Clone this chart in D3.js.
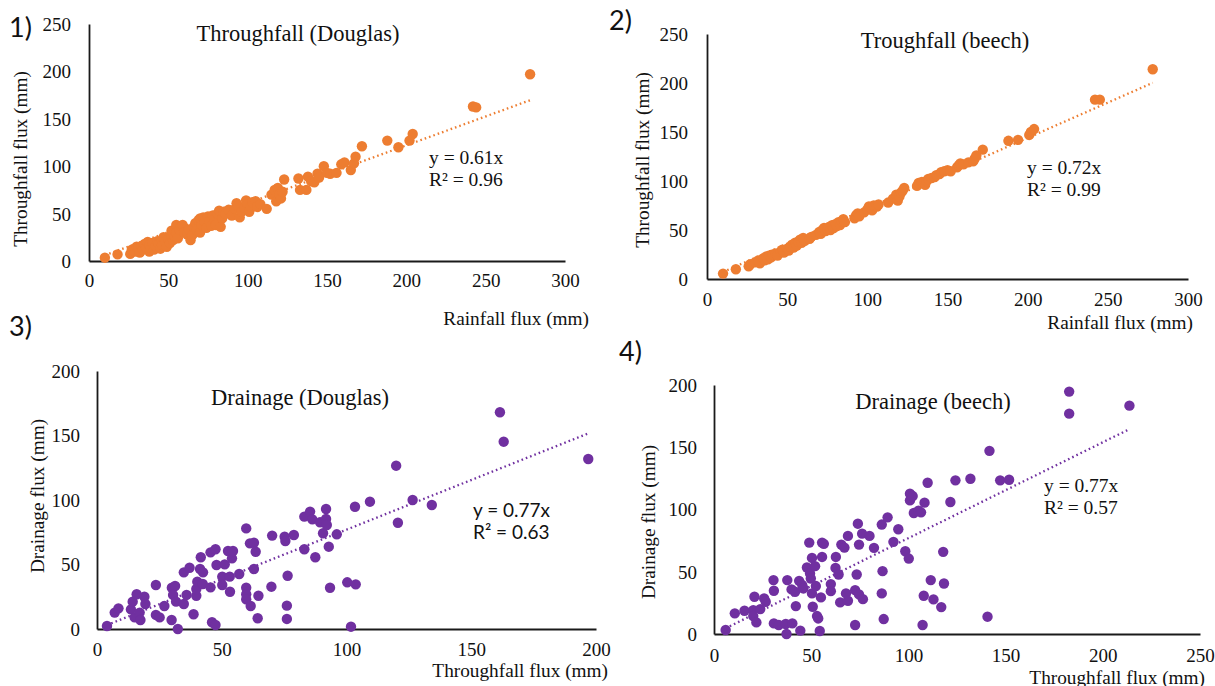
<!DOCTYPE html>
<html><head><meta charset="utf-8">
<script src="https://cdn.jsdelivr.net/npm/d3@7"></script>
<style>body{margin:0;background:#fff}svg{display:block}</style>
</head><body><svg id="c" width="1215" height="686"></svg>
<script>
// ---------- DATA ----------
const panelTitles = ["Throughfall (Douglas)", "Troughfall (beech)", "Drainage (Douglas)", "Drainage (beech)"];
const panelNumbers = ["1)", "2)", "3)", "4)"];
const xTitles = ["Rainfall flux (mm)", "Rainfall flux (mm)", "Throughfall flux (mm)", "Throughfall flux (mm)"];
const yTitles = ["Throughfall flux (mm)", "Throughfall flux (mm)", "Drainage flux (mm)", "Drainage flux (mm)"];
const slopes = [0.61, 0.72, 0.77, 0.77];
const r2Values = ["0.96", "0.99", "0.63", "0.57"];
const xTicks300 = [0, 50, 100, 150, 200, 250, 300];
const yTicks250 = [0, 50, 100, 150, 200, 250];
const xTicks200 = [0, 50, 100, 150, 200];
const xTicks250 = [0, 50, 100, 150, 200, 250];
const yTicks200 = [0, 50, 100, 150, 200];

// 1) Douglas: rainfall vs throughfall
const douglasTF = [[10,3.5],[18,7],[26,7.5],[27,12],[29,10],[30,15],[31,13],[32,9],[33,16],[34,12],[35,18],[36,14],[37,20],[38,10],[38,17],[39,14],[40,19],[41,12],[42,16],[43,21],[44,18],[45,13],[46,22],[46,17],[47,25],[48,20],[49,15],[50,23],[51,19],[52,27],[52,32],[53,22],[54,26],[55,38],[55,30],[56,24],[57,33],[58,37],[59,38],[60,30],[62,28],[63,33],[64,22],[65,27],[66,36],[67,40],[68,33],[69,43],[70,45],[70,30],[71,38],[72,46],[73,41],[74,35],[75,47],[76,42],[77,37],[78,48],[79,44],[80,38],[81,50],[82,53],[83,36],[84,45],[85,52],[86,50],[88,54],[90,48],[92,55],[93,61],[94,58],[95,46],[96,52],[98,56],[99,64],[100,60],[101,52],[102,57],[103,62],[105,63],[106,57],[108,60],[112,55],[115,70],[117,75],[118,63],[119,77],[120,70],[121,66],[122,73],[123,86],[132,87],[133,75],[137,75],[138,89],[140,84],[142,83],[144,92],[145,88],[148,100],[150,93],[152,92],[156,93],[159,102],[161,104],[165,96],[167,103],[168,110],[172,121],[188,127],[195,120],[202,127],[204,134],[242,163],[244,162],[278,197]];

// 2) beech: rainfall vs throughfall
const beechTF = [[10,5.5],[18,10],[26,13],[27,15],[30,17],[32,19],[33,16],[35,21],[36,19],[37,23],[38,20],[39,24],[40,22],[41,25],[43,26],[44,24],[46,28],[47,30],[48,27],[50,31],[51,29],[52,33],[53,35],[54,32],[55,37],[56,34],[57,38],[58,40],[59,37],[60,42],[61,39],[64,41],[65,43],[68,45],[70,48],[71,46],[72,50],[73,52],[74,49],[75,51],[76,53],[77,50],[78,55],[79,52],[80,56],[81,54],[82,58],[83,55],[84,59],[85,61],[86,58],[92,62],[93,65],[94,67],[95,64],[98,68],[100,71],[101,74],[103,70],[104,75],[106,74],[107,76],[113,78],[116,82],[118,86],[119,80],[120,84],[121,88],[122,90],[123,93],[131,95],[132,98],[134,99],[136,96],[137,100],[138,102],[140,103],[142,104],[143,106],[145,107],[146,109],[148,110],[150,111],[152,110],[156,114],[157,116],[158,118],[160,117],[163,119],[166,120],[167,123],[168,126],[172,132],[188,141],[194,142],[201,147],[202,150],[204,153],[242,183],[245,183],[278,214]];

// 3) Douglas: throughfall vs drainage
const douglasDR = [[4,2.3],[7.1,12.7],[8.6,16],[13.6,15.2],[14.3,21.2],[15.9,26.9],[15.1,9],[17.1,12.7],[17.4,7],[19,25],[19.4,19.4],[23.6,34.1],[23.6,10.9],[25.1,9],[27,17.8],[29.9,7],[30,32],[31.3,33.3],[30.5,26.4],[31.7,21.2],[32.4,0],[34.8,19.4],[34.8,43.9],[35.9,26.4],[37.1,47.5],[38.7,11.4],[39.8,25.8],[39.8,31],[40.2,36.7],[41.3,46.5],[41.6,55.6],[42.5,43.9],[42.4,34.9],[45.5,32.3],[45.5,59.4],[46.1,5.2],[47.5,3.1],[47.5,61.8],[47.9,49.6],[50.2,40.6],[50.2,34.1],[51.2,50.1],[52.5,60.5],[53.2,40.6],[53.3,28.9],[54.1,54.8],[54.5,60.5],[57,42.6],[59.8,78],[59.8,32],[59.8,26.9],[59.8,23],[61.6,17.8],[61.3,66.4],[62.9,66.9],[62.9,46.5],[63.6,59.9],[64.7,25.8],[64.4,8.3],[69.9,32.8],[70.2,72.4],[75.2,71.6],[75.5,68.2],[76.4,41.3],[76.1,18.1],[76.1,7.8],[78.9,72.9],[83.1,87.1],[83.1,61.8],[85.4,91],[86.3,85],[87.5,55.6],[89.4,82.7],[90.6,74.2],[91.8,93],[91.8,85.3],[92.1,80.6],[92.9,63.8],[93.4,32],[96.1,73.4],[100.3,36.2],[101.8,1.8],[103.7,34.6],[103.4,94.8],[109.4,98.7],[119.9,126.6],[120.6,82.4],[126.5,100],[134.2,96.1],[161.5,168],[163,145.2],[196.9,131.8]];

// 4) beech: throughfall vs drainage
const beechDR = [[6,3.2],[10.7,16.6],[15.7,18.7],[20.2,19.2],[20.8,29.9],[20.2,14.4],[21.8,9.3],[23.8,20],[25.8,28.6],[26.6,25.9],[30.6,43.3],[30.8,34.7],[30.8,8.5],[33.3,7.2],[36.9,8],[37.3,0],[37.7,43.3],[39.9,35.8],[40.3,8.5],[41.7,33.9],[42.1,22.4],[43.8,42.7],[44.4,2.7],[45.4,39.3],[46,36.6],[47.8,53.4],[49,73.4],[49.4,48.6],[49.8,44.6],[50.4,32.6],[50.4,61.1],[50.8,21.9],[52,54.5],[52.4,38.5],[53,14.4],[53.6,12.5],[54.4,2.4],[55,29.4],[55.6,61.9],[55.6,73.4],[56.5,72.4],[60.1,40.1],[60.1,34.4],[62.5,53.1],[62.7,61.9],[64.1,47.8],[64.9,25.4],[65.5,71.8],[67.1,69.4],[67.9,32.6],[68.9,26.7],[68.9,78.8],[72.6,7.2],[72.6,35.2],[73.4,47.8],[74,88.6],[74.6,71.8],[74.6,31.8],[76.2,80.6],[76.6,28],[80,78.8],[82.3,69.2],[86.3,87.9],[86.3,32.6],[86.7,50.5],[87.3,12],[89.3,93.7],[92.3,74],[94.8,84.1],[98.4,66.5],[100.2,60.6],[100.8,112.7],[100.8,107.3],[102.2,110.8],[102.8,97.2],[105.2,99.1],[106.5,97.7],[107.3,7.2],[107.9,30.7],[108.3,105.5],[109.9,121.5],[111.5,43.3],[112.9,27.8],[116.9,21.6],[117.9,66],[118.3,40.6],[121.6,106],[124.2,123.4],[131.9,124.7],[140.7,13.9],[141.7,147.1],[147.2,123.4],[151.8,123.9],[182.7,194.7],[182.7,177],[213.7,183.4]];

// ---------- LAYOUT ----------
const ORANGE = "#ED7D31", PURPLE = "#7030A0";
const SERIF = "'Liberation Serif','Times New Roman',serif";
const SANS = "Lato,'Open Sans',sans-serif";

const panels = [
  {data: douglasTF, color: ORANGE, xr:[89,565], yr:[261,24], xd:[0,300], yd:[0,250], xt:xTicks300, yt:yTicks250,
   xlabDy:22, ylabDx:18, title:[298,33], num:[9,28], xTitle:[589,318], yTitle:[20,159], eq:[429,157], eqFont:SERIF},
  {data: beechTF, color: ORANGE, xr:[707,1188], yr:[279,34], xd:[0,300], yd:[0,250], xt:xTicks300, yt:yTicks250,
   xlabDy:23, ylabDx:19, title:[945,40], num:[609,21], xTitle:[1193,322], yTitle:[642,160], eq:[1027,167], eqFont:SERIF},
  {data: douglasDR, color: PURPLE, xr:[97,596], yr:[629,371], xd:[0,200], yd:[0,200], xt:xTicks200, yt:yTicks200,
   xlabDy:23, ylabDx:17, title:[300,397], num:[9,327], xTitle:[608,670], yTitle:[37,496], eq:[473,510], eqFont:SANS},
  {data: beechDR, color: PURPLE, xr:[714,1200], yr:[634,385], xd:[0,250], yd:[0,200], xt:xTicks250, yt:yTicks200,
   xlabDy:24, ylabDx:17, title:[933,401], num:[619,352], xTitle:[1205,677], yTitle:[648,522], eq:[1044,485], eqFont:SERIF}
];

const svg = d3.select("#c");

panels.forEach((p, i) => {
  const x = d3.scaleLinear().domain(p.xd).range(p.xr);
  const y = d3.scaleLinear().domain(p.yd).range(p.yr);
  const g = svg.append("g");

  // axes
  const xAxis = d3.axisBottom(x).tickValues(p.xt).tickSize(0).tickPadding(p.xlabDy - 9);
  const yAxis = d3.axisLeft(y).tickValues(p.yt).tickSize(0).tickPadding(p.ylabDx);
  const gx = g.append("g").attr("transform", `translate(0,${y(0)})`).call(xAxis);
  const gy = g.append("g").attr("transform", `translate(${x(0)},0)`).call(yAxis);
  [gx, gy].forEach(a => {
    a.select(".domain").attr("stroke", "#1a1a1a").attr("stroke-width", 1.8);
    a.selectAll("text").attr("font-family", SERIF).attr("font-size", 19).attr("fill", "#111");
  });
  gy.selectAll("text").attr("dy", "0.34em");
  gx.selectAll("text").attr("dy", "0.71em");

  // trendline
  const xs = d3.extent(p.data, d => d[0]);
  g.append("line")
    .attr("x1", x(xs[0])).attr("y1", y(slopes[i] * xs[0]))
    .attr("x2", x(xs[1])).attr("y2", y(slopes[i] * xs[1]))
    .attr("stroke", p.color).attr("stroke-width", 2.3)
    .attr("stroke-dasharray", "1.6,3");

  // points
  g.append("g").selectAll("circle").data(p.data).join("circle")
    .attr("cx", d => x(d[0])).attr("cy", d => y(d[1]))
    .attr("r", 5.2).attr("fill", p.color);

  // title
  g.append("text").attr("x", p.title[0]).attr("y", p.title[1]).attr("dy", "0.35em")
    .attr("text-anchor", "middle").attr("font-family", SERIF).attr("font-size", 22.5).attr("fill", "#111")
    .text(panelTitles[i]);
  // panel number
  g.append("text").attr("x", p.num[0]).attr("y", p.num[1]).attr("dy", "0.35em")
    .attr("font-family", SANS).attr("font-size", 27).attr("fill", "#111").text(panelNumbers[i]);
  // x title
  g.append("text").attr("x", p.xTitle[0]).attr("y", p.xTitle[1]).attr("dy", "0.35em")
    .attr("text-anchor", "end").attr("font-family", SERIF).attr("font-size", 19.3).attr("fill", "#111")
    .text(xTitles[i]);
  // y title
  g.append("text").attr("transform", `translate(${p.yTitle[0]},${p.yTitle[1]}) rotate(-90)`).attr("dy", "0.35em")
    .attr("text-anchor", "middle").attr("font-family", SERIF).attr("font-size", 19.3).attr("fill", "#111")
    .text(yTitles[i]);
  // equation
  const eqSize = p.eqFont === SANS ? 19 : 19.5;
  g.append("text").attr("x", p.eq[0]).attr("y", p.eq[1]).attr("dy", "0.35em")
    .attr("font-family", p.eqFont).attr("font-size", eqSize).attr("fill", "#111")
    .text(`y = ${slopes[i].toFixed(2)}x`);
  g.append("text").attr("x", p.eq[0]).attr("y", p.eq[1] + 22).attr("dy", "0.35em")
    .attr("font-family", p.eqFont).attr("font-size", eqSize).attr("fill", "#111")
    .text(`R² = ${r2Values[i]}`);
});
</script>
</body></html>
